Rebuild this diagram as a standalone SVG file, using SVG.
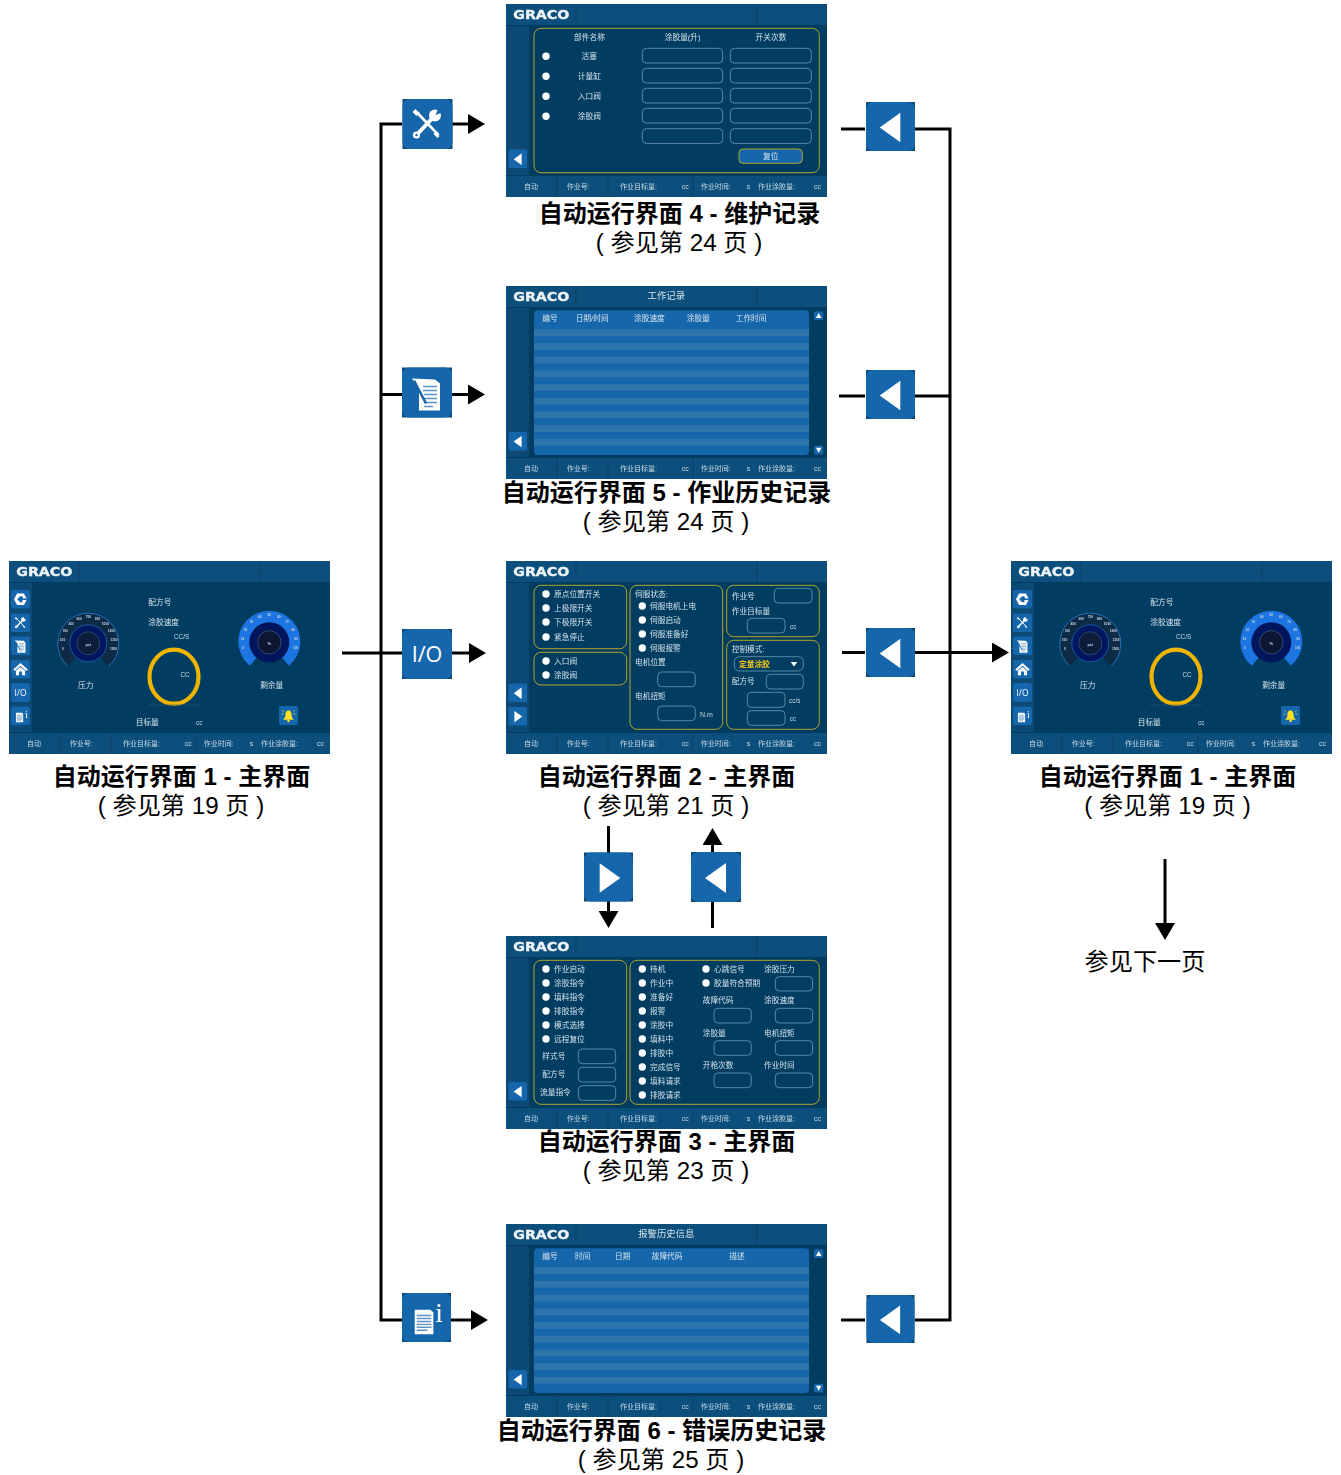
<svg xmlns="http://www.w3.org/2000/svg" xmlns:xlink="http://www.w3.org/1999/xlink" width="1341" height="1475" viewBox="0 0 1341 1475">
<style>
text{font-family:"Liberation Sans","Noto Sans CJK SC",sans-serif}
.s{font-size:7.7px;fill:#d3e2ea}
.f{font-size:7px;fill:#c9dbe6}
.h{font-size:9.4px;fill:#d3e2ea}
.c{font-size:6.4px;fill:#c9dbe6}
.m{text-anchor:middle}
.logo{font-family:"DejaVu Sans",sans-serif;font-weight:700;font-size:11.4px;fill:#eef4f7;stroke:#eef4f7;stroke-width:.35}
.t{font-size:3.2px;fill:#c8d6e2;text-anchor:middle;font-weight:700}
.cap{font-size:24px;font-weight:700;fill:#000;text-anchor:middle}
.sub{font-size:24.2px;fill:#000;text-anchor:middle}
.ib{fill:none;stroke:#6f9db3;stroke-width:.8}
.pn{fill:none;stroke:#b5a62c;stroke-width:1}
.d{fill:#fff}
.ln{fill:none;stroke:#000;stroke-width:3}
.ar{marker-end:url(#ah)}
</style>
<defs>
<filter id="soft" x="0" y="0" width="1" height="1"><feGaussianBlur stdDeviation="0.3"/></filter>
<marker id="ah" viewBox="0 0 17 20" refX="0" refY="10" markerWidth="17" markerHeight="20" markerUnits="userSpaceOnUse" orient="auto"><polygon points="0,0 17,10 0,20" fill="#000"/></marker>
<g id="chrome">
<rect width="321" height="193" fill="#013c61"/>
<rect width="321" height="21" fill="#0b4f7c"/>
<rect y="172" width="321" height="21" fill="#0b4f7c"/>
<rect y="21" width="23" height="151" fill="#0a4a75"/>
<path d="M70 0V21M251 0V21M51 172V193M102 172V193M187 172V193" stroke="#053f66" stroke-width="1" fill="none"/>
<path d="M0 21.5H321M0 171.5H321" stroke="#033a5e" stroke-width="1" fill="none"/>
</g>
<g id="base"><rect width="50" height="50" fill="#0a4a75"/><rect width="50" height="50" rx="7" fill="#1666ac"/></g>
<symbol id="b-back" viewBox="0 0 50 50"><use href="#base"/><polygon class="d" points="35,11 14,26 35,41"/></symbol>
<symbol id="b-fwd" viewBox="0 0 50 50"><use href="#base"/><polygon class="d" points="16,11 37,26 16,41"/></symbol>
<symbol id="b-blank" viewBox="0 0 50 50"><use href="#base"/></symbol>
<symbol id="b-tool" viewBox="0 0 50 50"><use href="#base"/>
<path d="M14 13L36 36" stroke="#fff" stroke-width="2.600" fill="none"/><path d="M13 10L10 13L14 17L17 14Z" class="d"/><path d="M33 33L37 37L35 39L31 35Z" class="d"/>
<path d="M15 35L30 19" stroke="#fff" stroke-width="4" fill="none"/>
<circle cx="32.500" cy="16.500" r="6" class="d"/><polygon points="33,16 36,9 41,13" fill="#1666ac"/><circle cx="14" cy="36" r="3.600" class="d"/><circle cx="14" cy="36" r="1.200" fill="#1666ac"/></symbol>
<symbol id="b-doc" viewBox="0 0 50 50"><use href="#base"/>
<path class="d" d="M10 11L33 12L38 16V43H17V22Z"/>
<path d="M21 19H35M21 23H35M22 27H35M22 31H35M22 35H35M22 39H31" stroke="#5a93c4" stroke-width="1.600" fill="none"/>
<path d="M12 13L24 36" stroke="#1666ac" stroke-width="2.500" fill="none"/></symbol>
<symbol id="b-doci" viewBox="0 0 50 50"><use href="#base"/>
<path class="d" d="M13 17H29L32 20V42H13Z"/>
<path d="M15 23H30M15 26H30M15 29H30M15 32H30M15 35H30M15 38H26" stroke="#5a93c4" stroke-width="1.500" fill="none"/></symbol>
<symbol id="b-graco" viewBox="0 0 50 50"><use href="#base"/>
<path class="d" d="M16 10H34L42 25L34 40H16L8 25Z"/><path d="M24 17L16 25L24 33H30V27H42V23H32L30 17Z" fill="#1666ac"/></symbol>
<symbol id="b-home" viewBox="0 0 50 50"><use href="#base"/>
<path class="d" d="M25 9L44 26L40 30L25 16L10 30L6 26Z"/><path class="d" d="M13 29L25 19L37 29V41H29V31H21V41H13Z"/></symbol>
<symbol id="b-bell" viewBox="0 0 50 50"><use href="#base"/>
<path d="M25 12C18 12 17 18 17 24C17 31 14 33 11 36H39C36 33 33 31 33 24C33 18 32 12 25 12Z" fill="#ffe21a"/><circle cx="25" cy="39" r="3.500" fill="#ffe21a"/>
<path d="M12 20L7 22M13 14L9 12M38 20L43 22M37 14L41 12" stroke="#ffe21a" stroke-width="2" fill="none"/></symbol>
<g id="pressure">
<path d="M-20.500 23 A30.500 30.500 0 1 1 20.500 23 L0 0Z" fill="#0e2a47"/>
<path d="M-20.500 23 A30.500 30.500 0 1 1 20.500 23" fill="none" stroke="#2a78c4" stroke-width=".9"/>
<circle r="18.500" fill="#03125e" stroke="#1d68b6" stroke-width=".8"/>
<circle r="11.500" fill="#071a38" stroke="#4a7da0" stroke-width=".5"/>
<text class="t" x="0" y="2.500" style="font-size:4px">psi</text>
<text class="t" x="-25.300" y="6.900">0</text><text class="t" x="-25.800" y="-2.300">150</text><text class="t" x="-22.900" y="-11.200">300</text><text class="t" x="-17.100" y="-18.500">450</text><text class="t" x="-9.100" y="-23.200">600</text><text class="t" x="0" y="-24.900">750</text><text class="t" x="9.100" y="-23.200">900</text><text class="t" x="17.100" y="-18.500">1050</text><text class="t" x="22.900" y="-11.200">1200</text><text class="t" x="25.800" y="-2.300">1350</text><text class="t" x="25.300" y="6.900">1500</text>
</g>
<g id="level">
<path d="M-19.500 23.500 A31 31 0 1 1 19.500 23.500 L0 0Z" fill="#1c74e0"/>
<circle r="20" fill="#04125c"/>
<circle r="11.700" fill="#0a1430" stroke="#5a86a6" stroke-width=".5"/>
<text class="t" x="0" y="2.500" style="font-size:4px">%</text>
<text class="t" x="-26.300" y="6.900">0</text><text class="t" x="-26.800" y="-2.300">10</text><text class="t" x="-23.900" y="-11.600">20</text><text class="t" x="-17.800" y="-19.200">30</text><text class="t" x="-9.500" y="-24.200">40</text><text class="t" x="0" y="-26">50</text><text class="t" x="9.500" y="-24.200">60</text><text class="t" x="17.800" y="-19.200">70</text><text class="t" x="23.900" y="-11.600">80</text><text class="t" x="26.800" y="-2.300">90</text><text class="t" x="26.300" y="6.900">100</text>
</g>
<g id="stripes" fill="#2e74ac">
<rect x="28" y="43.300" width="275" height="6.800"/><rect x="28" y="57" width="275" height="6.800"/><rect x="28" y="70.700" width="275" height="6.800"/><rect x="28" y="84.400" width="275" height="6.800"/><rect x="28" y="98.100" width="275" height="6.800"/><rect x="28" y="111.800" width="275" height="6.800"/><rect x="28" y="125.500" width="275" height="6.800"/><rect x="28" y="139.200" width="275" height="6.800"/><rect x="28" y="152.900" width="275" height="6.800"/>
</g>
<g id="scroll">
<rect x="308" y="25.300" width="9.300" height="8.700" rx="1.500" fill="#1666ac"/><polygon class="d" points="312.700,27 315.500,32 309.900,32"/>
<rect x="308" y="159.700" width="9.300" height="8.700" rx="1.500" fill="#1666ac"/><polygon class="d" points="312.700,166.700 315.500,161.700 309.900,161.700"/>
</g>
<g id="mainbody">
<use href="#b-graco" x="2" y="28.700" width="19" height="19"/>
<use href="#b-tool" x="2" y="52.300" width="19" height="19"/>
<use href="#b-doc" x="2" y="75.300" width="19" height="19"/>
<use href="#b-home" x="2" y="98.700" width="19" height="19"/>
<use href="#b-blank" x="2" y="122" width="19" height="19"/>
<use href="#b-doci" x="2" y="145.300" width="19" height="19"/>
<use href="#pressure" x="79.300" y="82.300"/>
<use href="#level" x="260.300" y="81.300"/>
<ellipse cx="165" cy="115.700" rx="24.500" ry="27" fill="none" stroke="#efb400" stroke-width="4.200"/>
<path d="M139 144H191" stroke="#2a5f80" stroke-width=".5" fill="none"/>
<use href="#b-bell" x="270" y="145" width="19" height="19"/>
</g>
</defs>

<g id="connectors">
<path class="ln" d="M402 124H381V1320H402"/>
<path class="ln" d="M381 394.500H402"/>
<path class="ln" d="M342 653H402"/>
<path class="ln ar" d="M452 124H468"/>
<path class="ln ar" d="M451 394.500H468"/>
<path class="ln ar" d="M451 653H469"/>
<path class="ln ar" d="M450 1320H471"/>
<path class="ln" d="M841 129H865"/>
<path class="ln" d="M915 129H950V1320H915"/>
<path class="ln" d="M841 1320H865"/>
<path class="ln" d="M839 396H865"/>
<path class="ln" d="M915 396H950"/>
<path class="ln" d="M842 652.500H865"/>
<path class="ln ar" d="M915 652.500H992"/>
<path class="ln" d="M608.500 826V853"/>
<path class="ln ar" d="M608.500 901V911"/>
<path class="ln" d="M712.500 928V901"/>
<path class="ln ar" d="M712.500 853V845"/>
<path class="ln ar" d="M1165 859V923"/>
</g>

<g id="btn-maint"><use href="#b-tool" x="402" y="99" width="51" height="50"/></g>
<g id="btn-job"><use href="#b-doc" x="402" y="367" width="50" height="51"/></g>
<g id="btn-io"><use href="#b-blank" x="402" y="629" width="50" height="50"/><text x="427" y="662" class="m" style="font-family:'Open Sans','Liberation Sans',sans-serif;font-size:21.500px;fill:#fff">I/O</text></g>
<g id="btn-err"><use href="#b-doci" x="402" y="1293" width="49" height="49"/><text x="439" y="1322" class="m" style="font-family:'Liberation Serif',serif;font-size:27px;fill:#fff">i</text></g>
<g id="btn-back-4"><use href="#b-back" x="865" y="102" width="51" height="49"/></g>
<g id="btn-back-5"><use href="#b-back" x="865" y="370" width="51" height="49"/></g>
<g id="btn-back-2"><use href="#b-back" x="865" y="628" width="51" height="49"/></g>
<g id="btn-back-6"><use href="#b-back" x="865" y="1295" width="51" height="48"/></g>
<g id="btn-next-3"><use href="#b-fwd" x="584" y="852" width="49" height="50"/></g>
<g id="btn-prev-2"><use href="#b-back" x="691" y="852" width="50" height="50"/></g>

<g id="screen-1" transform="translate(9 561)" filter="url(#soft)">
<use href="#chrome"/><use href="#mainbody"/>
<text class="logo" x="7.300" y="14.700" textLength="56" lengthAdjust="spacingAndGlyphs">GRACO</text>
<text x="11.500" y="135" class="m" style="font-family:'Open Sans',sans-serif;font-size:8.500px;fill:#fff">I/O</text>
<text x="17.500" y="157" class="m" style="font-family:'Liberation Serif',serif;font-size:10px;fill:#fff">i</text>
<text class="s" x="139.300" y="44">配方号</text><text class="s" x="139.300" y="64">涂胶速度</text>
<text class="c" x="165" y="77.500">CC/S</text><text class="c" x="171.500" y="115.500">CC</text>
<text class="s m" x="76.800" y="127">压力</text><text class="s m" x="262.700" y="127">剩余量</text>
<text class="s" x="126.700" y="163.500">目标量</text><text class="c" x="187" y="164">cc</text>
<text class="f m" x="25" y="184.800">自动</text><text class="f" x="60.700" y="184.800">作业号:</text><text class="f" x="114" y="184.800">作业目标量:</text><text class="f" x="175.700" y="184.800">cc</text><text class="f" x="194.700" y="184.800">作业时间:</text><text class="f" x="240.700" y="184.800">s</text><text class="f" x="252" y="184.800">作业涂胶量:</text><text class="f" x="308" y="184.800">cc</text>
</g>

<g id="screen-1b" transform="translate(1011 561)" filter="url(#soft)">
<use href="#chrome"/><use href="#mainbody"/>
<text class="logo" x="7.300" y="14.700" textLength="56" lengthAdjust="spacingAndGlyphs">GRACO</text>
<text x="11.500" y="135" class="m" style="font-family:'Open Sans',sans-serif;font-size:8.500px;fill:#fff">I/O</text>
<text x="17.500" y="157" class="m" style="font-family:'Liberation Serif',serif;font-size:10px;fill:#fff">i</text>
<text class="s" x="139.300" y="44">配方号</text><text class="s" x="139.300" y="64">涂胶速度</text>
<text class="c" x="165" y="77.500">CC/S</text><text class="c" x="171.500" y="115.500">CC</text>
<text class="s m" x="76.800" y="127">压力</text><text class="s m" x="262.700" y="127">剩余量</text>
<text class="s" x="126.700" y="163.500">目标量</text><text class="c" x="187" y="164">cc</text>
<text class="f m" x="25" y="184.800">自动</text><text class="f" x="60.700" y="184.800">作业号:</text><text class="f" x="114" y="184.800">作业目标量:</text><text class="f" x="175.700" y="184.800">cc</text><text class="f" x="194.700" y="184.800">作业时间:</text><text class="f" x="240.700" y="184.800">s</text><text class="f" x="252" y="184.800">作业涂胶量:</text><text class="f" x="308" y="184.800">cc</text>
</g>

<g id="screen-4" transform="translate(506 4)" filter="url(#soft)">
<use href="#chrome"/>
<text class="logo" x="7.300" y="14.700" textLength="56" lengthAdjust="spacingAndGlyphs">GRACO</text>
<use href="#b-back" x="2.300" y="145.300" width="19" height="19"/>
<rect class="pn" x="28" y="24.300" width="285.300" height="144.400" rx="7"/>
<text class="s m" x="83.500" y="36">部件名称</text><text class="s m" x="176.700" y="36">涂胶量(升)</text><text class="s m" x="265" y="36">开关次数</text>
<circle class="d" cx="40" cy="52.300" r="3.700"/><circle class="d" cx="40" cy="72.300" r="3.700"/><circle class="d" cx="40" cy="92.300" r="3.700"/><circle class="d" cx="40" cy="112.300" r="3.700"/>
<text class="s m" x="83.300" y="55">活塞</text><text class="s m" x="83.300" y="75">计量缸</text><text class="s m" x="83.300" y="95">入口阀</text><text class="s m" x="83.300" y="115">涂胶阀</text>
<rect class="ib" x="136.300" y="44.300" width="80.400" height="14.700" rx="4"/><rect class="ib" x="224.300" y="44.300" width="81" height="14.700" rx="4"/>
<rect class="ib" x="136.300" y="64.300" width="80.400" height="14.700" rx="4"/><rect class="ib" x="224.300" y="64.300" width="81" height="14.700" rx="4"/>
<rect class="ib" x="136.300" y="84.300" width="80.400" height="14.700" rx="4"/><rect class="ib" x="224.300" y="84.300" width="81" height="14.700" rx="4"/>
<rect class="ib" x="136.300" y="104.300" width="80.400" height="14.700" rx="4"/><rect class="ib" x="224.300" y="104.300" width="81" height="14.700" rx="4"/>
<rect class="ib" x="136.300" y="124.700" width="80.400" height="14.700" rx="4"/><rect class="ib" x="224.300" y="124.700" width="81" height="14.700" rx="4"/>
<rect x="233" y="145" width="63.300" height="14.300" rx="4" fill="#1666ac" stroke="#b5a62c" stroke-width="1"/>
<text class="s m" x="264.700" y="155">复位</text>
<text class="f m" x="25" y="184.800">自动</text><text class="f" x="60.700" y="184.800">作业号:</text><text class="f" x="114" y="184.800">作业目标量:</text><text class="f" x="175.700" y="184.800">cc</text><text class="f" x="194.700" y="184.800">作业时间:</text><text class="f" x="240.700" y="184.800">s</text><text class="f" x="252" y="184.800">作业涂胶量:</text><text class="f" x="308" y="184.800">cc</text>
</g>

<g id="screen-5" transform="translate(506 286)" filter="url(#soft)">
<use href="#chrome"/>
<text class="logo" x="7.300" y="14.700" textLength="56" lengthAdjust="spacingAndGlyphs">GRACO</text>
<text class="h m" x="160.300" y="13.300">工作记录</text>
<use href="#b-back" x="2.300" y="145.700" width="19" height="19"/>
<rect x="28" y="24.300" width="275" height="144.700" rx="4" fill="#1666ac"/><use href="#stripes"/><use href="#scroll"/>
<text class="s" x="36.300" y="35.400">编号</text><text class="s" x="69.700" y="35.400">日期/时间</text><text class="s" x="128" y="35.400">涂胶速度</text><text class="s" x="180.700" y="35.400">涂胶量</text><text class="s" x="229.700" y="35.400">工作时间</text>
<text class="f m" x="25" y="184.800">自动</text><text class="f" x="60.700" y="184.800">作业号:</text><text class="f" x="114" y="184.800">作业目标量:</text><text class="f" x="175.700" y="184.800">cc</text><text class="f" x="194.700" y="184.800">作业时间:</text><text class="f" x="240.700" y="184.800">s</text><text class="f" x="252" y="184.800">作业涂胶量:</text><text class="f" x="308" y="184.800">cc</text>
</g>

<g id="screen-6" transform="translate(506 1224)" filter="url(#soft)">
<use href="#chrome"/>
<text class="logo" x="7.300" y="14.700" textLength="56" lengthAdjust="spacingAndGlyphs">GRACO</text>
<text class="h m" x="160.300" y="12.700">报警历史信息</text>
<use href="#b-back" x="2.300" y="145.700" width="19" height="19"/>
<rect x="28" y="24.300" width="275" height="144.700" rx="4" fill="#1666ac"/><use href="#stripes"/><use href="#scroll"/>
<text class="s" x="36.300" y="35.400">编号</text><text class="s" x="69" y="35.400">时间</text><text class="s" x="109" y="35.400">日期</text><text class="s" x="145.700" y="35.400">故障代码</text><text class="s" x="223.300" y="35.400">描述</text>
<text class="f m" x="25" y="184.800">自动</text><text class="f" x="60.700" y="184.800">作业号:</text><text class="f" x="114" y="184.800">作业目标量:</text><text class="f" x="175.700" y="184.800">cc</text><text class="f" x="194.700" y="184.800">作业时间:</text><text class="f" x="240.700" y="184.800">s</text><text class="f" x="252" y="184.800">作业涂胶量:</text><text class="f" x="308" y="184.800">cc</text>
</g>

<g id="screen-2" transform="translate(506 561)" filter="url(#soft)">
<use href="#chrome"/>
<text class="logo" x="7.300" y="14.700" textLength="56" lengthAdjust="spacingAndGlyphs">GRACO</text>
<use href="#b-back" x="2.300" y="122.300" width="19" height="19"/><use href="#b-fwd" x="2.300" y="145.700" width="19" height="19"/>
<rect class="pn" x="28" y="24.300" width="92.700" height="63.400" rx="7"/><rect class="pn" x="28" y="91.300" width="92.700" height="32.700" rx="7"/>
<rect class="pn" x="124" y="24.300" width="92.700" height="144" rx="7"/><rect class="pn" x="220.700" y="24.300" width="92.600" height="51.400" rx="7"/><rect class="pn" x="220.700" y="79.300" width="92.600" height="89" rx="7"/>
<circle class="d" cx="40" cy="33" r="3.700"/><circle class="d" cx="40" cy="47" r="3.700"/><circle class="d" cx="40" cy="61" r="3.700"/><circle class="d" cx="40" cy="76" r="3.700"/><circle class="d" cx="40" cy="100" r="3.700"/><circle class="d" cx="40" cy="114" r="3.700"/>
<text class="s" x="48" y="35.800">原点位置开关</text><text class="s" x="48" y="49.800">上极限开关</text><text class="s" x="48" y="63.800">下极限开关</text><text class="s" x="48" y="78.800">紧急停止</text><text class="s" x="48" y="102.800">入口阀</text><text class="s" x="48" y="116.800">涂胶阀</text>
<text class="s" x="129" y="35.500">伺服状态:</text>
<circle class="d" cx="136.300" cy="45" r="3.700"/><circle class="d" cx="136.300" cy="59" r="3.700"/><circle class="d" cx="136.300" cy="73" r="3.700"/><circle class="d" cx="136.300" cy="87" r="3.700"/>
<text class="s" x="144" y="47.800">伺服电机上电</text><text class="s" x="144" y="61.800">伺服启动</text><text class="s" x="144" y="75.800">伺服准备好</text><text class="s" x="144" y="89.800">伺服报警</text>
<text class="s" x="129" y="103.800">电机位置</text><rect class="ib" x="151.700" y="111" width="37.600" height="14.700" rx="4"/>
<text class="s" x="129" y="137.800">电机扭矩</text><rect class="ib" x="151.700" y="145" width="37.600" height="14.700" rx="4"/><text class="c" x="194" y="155.500" style="font-size:7px">N.m</text>
<text class="s" x="225.700" y="37.500">作业号</text><rect class="ib" x="268.300" y="27.300" width="37.700" height="14.700" rx="4"/>
<text class="s" x="225.700" y="52.800">作业目标量</text><rect class="ib" x="241.300" y="57.300" width="37.700" height="14.700" rx="4"/><text class="c" x="284" y="68">cc</text>
<text class="s" x="225.700" y="90.800">控制模式:</text>
<rect class="ib" x="228.300" y="95.700" width="69" height="14.300" rx="5"/><text class="s" x="233" y="105.800" style="fill:#f3c31a;font-weight:700">定量涂胶</text><polygon class="d" points="284.700,101 291.300,101 288,105.500"/>
<text class="s" x="225.700" y="123.100">配方号</text><rect class="ib" x="260.300" y="113.300" width="37" height="14.700" rx="4"/>
<rect class="ib" x="241.300" y="131.300" width="37.700" height="15" rx="4"/><text class="c" x="283" y="141.500">cc/s</text>
<rect class="ib" x="241.300" y="149.700" width="37.700" height="14.600" rx="4"/><text class="c" x="283.700" y="160">cc</text>
<text class="f m" x="25" y="184.800">自动</text><text class="f" x="60.700" y="184.800">作业号:</text><text class="f" x="114" y="184.800">作业目标量:</text><text class="f" x="175.700" y="184.800">cc</text><text class="f" x="194.700" y="184.800">作业时间:</text><text class="f" x="240.700" y="184.800">s</text><text class="f" x="252" y="184.800">作业涂胶量:</text><text class="f" x="308" y="184.800">cc</text>
</g>

<g id="screen-3" transform="translate(506 936)" filter="url(#soft)">
<use href="#chrome"/>
<text class="logo" x="7.300" y="14.700" textLength="56" lengthAdjust="spacingAndGlyphs">GRACO</text>
<use href="#b-back" x="2.300" y="145.700" width="19" height="19"/>
<rect class="pn" x="28" y="24.300" width="92.700" height="144" rx="7"/><rect class="pn" x="124" y="24.300" width="189.300" height="144" rx="7"/>
<circle class="d" cx="40" cy="33" r="3.700"/><circle class="d" cx="40" cy="47" r="3.700"/><circle class="d" cx="40" cy="61" r="3.700"/><circle class="d" cx="40" cy="75" r="3.700"/><circle class="d" cx="40" cy="89" r="3.700"/><circle class="d" cx="40" cy="103" r="3.700"/>
<text class="s" x="48" y="35.800">作业启动</text><text class="s" x="48" y="49.800">涂胶指令</text><text class="s" x="48" y="63.800">填料指令</text><text class="s" x="48" y="77.800">排胶指令</text><text class="s" x="48" y="91.800">模式选择</text><text class="s" x="48" y="105.800">远程复位</text>
<text class="s" x="36.300" y="122.800">样式号</text><rect class="ib" x="72.300" y="113" width="37.400" height="14.700" rx="4"/>
<text class="s" x="36.300" y="141.100">配方号</text><rect class="ib" x="72.300" y="131.300" width="37.400" height="14.700" rx="4"/>
<text class="s" x="34" y="159.100">流量指令</text><rect class="ib" x="72.300" y="149.700" width="37.400" height="14.600" rx="4"/>
<circle class="d" cx="136.300" cy="33" r="3.700"/><circle class="d" cx="136.300" cy="47" r="3.700"/><circle class="d" cx="136.300" cy="61" r="3.700"/><circle class="d" cx="136.300" cy="75" r="3.700"/><circle class="d" cx="136.300" cy="89" r="3.700"/><circle class="d" cx="136.300" cy="103" r="3.700"/><circle class="d" cx="136.300" cy="117" r="3.700"/><circle class="d" cx="136.300" cy="131" r="3.700"/><circle class="d" cx="136.300" cy="145" r="3.700"/><circle class="d" cx="136.300" cy="159" r="3.700"/>
<text class="s" x="144" y="35.800">待机</text><text class="s" x="144" y="49.800">作业中</text><text class="s" x="144" y="63.800">准备好</text><text class="s" x="144" y="77.800">报警</text><text class="s" x="144" y="91.800">涂胶中</text><text class="s" x="144" y="105.800">填料中</text><text class="s" x="144" y="119.800">排胶中</text><text class="s" x="144" y="133.800">完成信号</text><text class="s" x="144" y="147.800">填料请求</text><text class="s" x="144" y="161.800">排胶请求</text>
<circle class="d" cx="200" cy="33" r="3.700"/><circle class="d" cx="200" cy="47" r="3.700"/>
<text class="s" x="208" y="35.800">心跳信号</text><text class="s" x="208" y="49.800">胶量符合预期</text>
<text class="s" x="258" y="35.500">涂胶压力</text><rect class="ib" x="269.300" y="40.700" width="37.400" height="14.300" rx="4"/>
<text class="s" x="196.700" y="66.800">故障代码</text><rect class="ib" x="208" y="72.300" width="37.300" height="14.700" rx="4"/>
<text class="s" x="258" y="66.800">涂胶速度</text><rect class="ib" x="269.300" y="72.300" width="37.400" height="14.700" rx="4"/>
<text class="s" x="196.700" y="99.800">涂胶量</text><rect class="ib" x="208" y="104.700" width="37.300" height="14.600" rx="4"/>
<text class="s" x="258" y="99.800">电机扭矩</text><rect class="ib" x="269.300" y="104.700" width="37.400" height="14.600" rx="4"/>
<text class="s" x="196.700" y="131.800">开枪次数</text><rect class="ib" x="208" y="137" width="37.300" height="14.700" rx="4"/>
<text class="s" x="258" y="131.800">作业时间</text><rect class="ib" x="269.300" y="137" width="37.400" height="14.700" rx="4"/>
<text class="f m" x="25" y="184.800">自动</text><text class="f" x="60.700" y="184.800">作业号:</text><text class="f" x="114" y="184.800">作业目标量:</text><text class="f" x="175.700" y="184.800">cc</text><text class="f" x="194.700" y="184.800">作业时间:</text><text class="f" x="240.700" y="184.800">s</text><text class="f" x="252" y="184.800">作业涂胶量:</text><text class="f" x="308" y="184.800">cc</text>
</g>

<g id="labels">
<text class="cap" x="679.500" y="222">自动运行界面 4 - 维护记录</text><text class="sub" x="679" y="251">( 参见第 24 页 )</text>
<text class="cap" x="666.500" y="501">自动运行界面 5 - 作业历史记录</text><text class="sub" x="666" y="530">( 参见第 24 页 )</text>
<text class="cap" x="666.500" y="785">自动运行界面 2 - 主界面</text><text class="sub" x="666" y="814">( 参见第 21 页 )</text>
<text class="cap" x="666.500" y="1150">自动运行界面 3 - 主界面</text><text class="sub" x="666" y="1179">( 参见第 23 页 )</text>
<text class="cap" x="661.500" y="1439">自动运行界面 6 - 错误历史记录</text><text class="sub" x="661" y="1468">( 参见第 25 页 )</text>
<text class="cap" x="181.500" y="785">自动运行界面 1 - 主界面</text><text class="sub" x="181" y="814">( 参见第 19 页 )</text>
<text class="cap" x="1167.500" y="785">自动运行界面 1 - 主界面</text><text class="sub" x="1167.500" y="814">( 参见第 19 页 )</text>
<text class="sub" x="1145" y="970">参见下一页</text>
</g>
</svg>
